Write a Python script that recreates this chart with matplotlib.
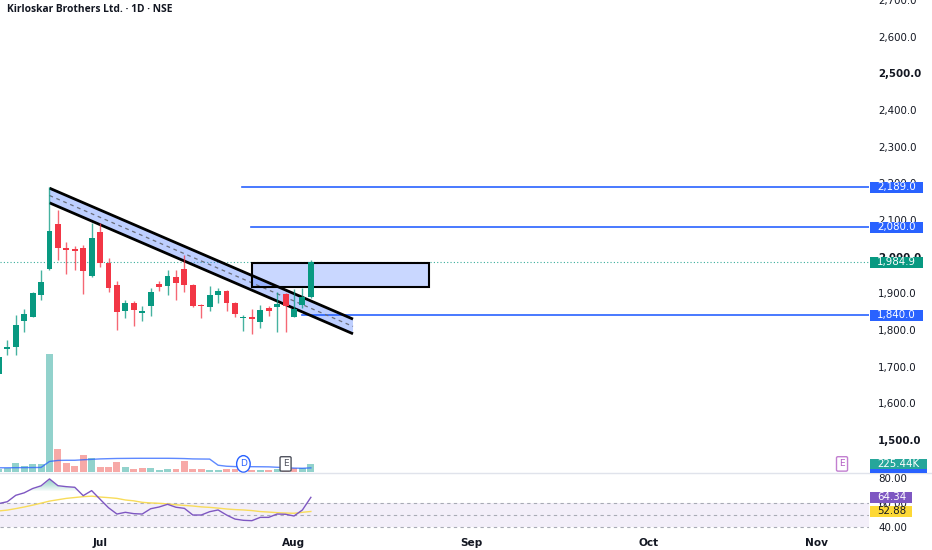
import matplotlib
matplotlib.use('Agg')
import matplotlib.pyplot as plt
import matplotlib.transforms as mtransforms
from matplotlib.patches import Rectangle, Polygon
from matplotlib.lines import Line2D
import numpy as np

# ---------------- data ----------------
title = "Kirloskar Brothers Ltd. · 1D · NSE"

opens  = [1680, 1749, 1754, 1824, 1837, 1896, 1967, 2089, 2024, 2020,
          2024, 1948, 2067, 1983, 1923, 1851, 1875, 1847, 1865, 1926,
          1919, 1944, 1966, 1924, 1869, 1862, 1896, 1908, 1875, 1832,
          1835, 1821, 1860, 1863, 1898, 1837, 1869, 1889]
highs  = [1735, 1774, 1842, 1857, 1905, 1963, 2189, 2128, 2039, 2030,
          2033, 2092, 2093, 1996, 1935, 1883, 1880, 1865, 1915, 1933,
          1963, 1963, 2005, 1926, 1872, 1919, 1915, 1910, 1877, 1842,
          1857, 1869, 1865, 1905, 1900, 1912, 1915, 1992]
lows   = [1675, 1733, 1731, 1795, 1835, 1883, 1965, 1992, 1954, 1965,
          1899, 1946, 1972, 1905, 1799, 1833, 1810, 1826, 1839, 1907,
          1896, 1883, 1905, 1864, 1833, 1851, 1875, 1851, 1837, 1797,
          1790, 1806, 1839, 1794, 1796, 1837, 1860, 1888]
closes = [1728, 1752, 1815, 1845, 1901, 1931, 2071, 2024, 2018, 2015,
          1962, 2051, 1983, 1916, 1850, 1874, 1854, 1853, 1905, 1917,
          1948, 1928, 1924, 1866, 1865, 1896, 1908, 1875, 1845, 1835,
          1831, 1854, 1852, 1872, 1867, 1857, 1889, 1984.9]
volumes_k = [70, 100, 245, 167, 225, 225, 3450, 653, 246, 176,
             480, 393, 129, 147, 275, 129, 88, 117, 117, 50,
             70, 88, 322, 79, 79, 50, 50, 67, 67, 50,
             50, 50, 50, 67, 67, 108, 108, 225.44]
vol_ma_k = [115, 115, 118, 120, 122, 125, 300, 330, 335, 335,
            350, 362, 375, 382, 388, 390, 392, 393, 393, 393,
            393, 390, 385, 375, 372, 370, 190, 160, 150, 147,
            147, 145, 142, 130, 118, 105, 100, 112]
rsi = [59.3, 60.8, 66.0, 68.0, 71.5, 73.7, 79.3, 73.8, 73.0, 72.5,
       65.7, 69.8, 62.8, 55.9, 50.8, 52.2, 51.1, 50.8, 55.1, 56.5,
       58.7, 56.3, 55.4, 50.0, 50.0, 52.7, 54.1, 50.0, 46.7, 45.7,
       45.4, 48.1, 48.1, 50.8, 50.6, 49.2, 54.1, 64.34]
rsi_ma = [53.3, 54.0, 55.2, 56.5, 58.0, 59.6, 61.3, 62.4, 63.5, 64.2,
          64.9, 65.3, 64.6, 64.1, 63.5, 62.2, 61.5, 60.3, 59.8, 59.5,
          59.0, 58.3, 57.8, 57.3, 56.6, 56.2, 55.6, 54.9, 54.4, 54.1,
          53.6, 52.8, 52.4, 51.9, 51.6, 51.4, 52.2, 52.88]

month_labels = ['Jul', 'Aug', 'Sep', 'Oct', 'Nov']
month_pos = [12, 35, 56, 77, 97]          # bar index of first session of month
price_ticks = list(range(1500, 2701, 100))
rsi_ticks = [40, 60, 80]

hlevels = [2189.0, 2080.0, 1840.0]
hstarts = [28.8, 29.9, 35.9]
channel_x = [6, 42]
channel_top = [2187, 1830]
channel_gap = 40
zone_x = [30.0, 51.0]
zone_y = [1917, 1984]
last_close = 1984.9
last_vol_label = '225.44K'
dividend_idx = 29
earnings_idx = 34
next_earnings_idx = 100

# ---------------- style ----------------
GREEN = '#089981'
RED = '#f23645'
VGREEN = '#92d2cc'
VRED = '#f7a9a7'
BLUE = '#2962ff'
TXT = '#131722'
W, H = 932, 550
PLOT_R = 869

plt.rcParams['font.family'] = ['DejaVu Sans']
fig = plt.figure(figsize=(W / 100, H / 100), dpi=100)
fig.patch.set_facecolor('white')

def fx(px):
    return px / W

def fy(py):
    return 1 - py / H

ax = fig.add_axes([0, fy(471.7), fx(PLOT_R), 471.7 / H])
vax = ax.twinx()
rax = fig.add_axes([0, fy(533), fx(PLOT_R), 60 / H])

n = len(closes)
x = np.arange(n)
o = np.array(opens, float)
c = np.array(closes, float)
h = np.array(highs, float)
l = np.array(lows, float)
up = c >= o

# candles
wick_cols = [GREEN if u else RED for u in up]
ax.vlines(x, l, h, colors=wick_cols, lw=1.0, alpha=0.75, zorder=7)
body_bottom = np.minimum(o, c)
body_h = np.maximum(np.abs(c - o), 4.5)
ax.bar(x, body_h, bottom=body_bottom, width=0.7,
       color=[GREEN if u else RED for u in up], linewidth=0, zorder=8)

# last price dotted line
ax.axhline(last_close, color=GREEN, lw=0.8, ls=(0, (1, 2)), alpha=0.8, zorder=1)

# horizontal rays
for lvl, st in zip(hlevels, hstarts):
    ax.plot([st, 200], [lvl, lvl], color=BLUE, lw=1.2, zorder=5)

# channel
xs = np.array(channel_x, float)
top = np.array(channel_top, float)
bot = top - channel_gap
mid = top - channel_gap / 2
poly = Polygon([[xs[0], top[0]], [xs[1], top[1]], [xs[1], bot[1]], [xs[0], bot[0]]],
               closed=True, facecolor=BLUE, alpha=0.3, edgecolor='none', zorder=5)
ax.add_patch(poly)
ax.plot(xs, top, color='black', lw=2.0, zorder=6, solid_capstyle='butt')
ax.plot(xs, bot, color='black', lw=2.0, zorder=6, solid_capstyle='butt')
ax.plot(xs, mid, color='#6a6d78', lw=0.9, ls=(0, (3, 3)), zorder=6)

# zone rectangle
ax.add_patch(Rectangle((zone_x[0], zone_y[0]), zone_x[1] - zone_x[0], zone_y[1] - zone_y[0],
                       facecolor=BLUE, alpha=0.25, edgecolor='none', zorder=5))
ax.add_patch(Rectangle((zone_x[0], zone_y[0]), zone_x[1] - zone_x[0], zone_y[1] - zone_y[0],
                       facecolor='none', edgecolor='black', lw=1.5, zorder=6))

ax.set_xlim(0.13, 103.2)
ax.set_ylim(1414, 2700)
ax.set_yticks(price_ticks)
ax.set_yticklabels([f"{t:,.1f}" for t in price_ticks])
ax.yaxis.tick_right()
ax.tick_params(axis='y', which='both', length=0, pad=6.5, labelsize=7.4, labelcolor=TXT)
for lab, t in zip(ax.get_yticklabels(), price_ticks):
    if t % 500 == 0:
        lab.set_fontweight('bold')
ax.set_xticks([])
for s in ax.spines.values():
    s.set_visible(False)
ax.set_facecolor('none')

# volume
vol = np.array(volumes_k, float)
prev = np.concatenate([[c[0] - 1], c[:-1]])
vcols = [VGREEN if cc >= pc else VRED for cc, pc in zip(c, prev)]
vax.bar(x, vol, width=0.82, color=vcols, linewidth=0, zorder=2)
vax.plot(x, vol_ma_k, color=BLUE, lw=1.0, alpha=0.75, zorder=3)
vax.set_ylim(0, 13830)
vax.set_xlim(ax.get_xlim())
vax.set_yticks([])
vax.set_xticks([])
for s in vax.spines.values():
    s.set_visible(False)

ev_tr = mtransforms.blended_transform_factory(vax.transData, vax.transAxes)
vax.text(dividend_idx, 0.0165, 'D', transform=ev_tr, ha='center', va='center',
         fontsize=6.5, color=BLUE, zorder=8,
         bbox=dict(boxstyle='ellipse,pad=0.15', fc='white', ec=BLUE, lw=1.0))
vax.text(earnings_idx, 0.0165, 'E', transform=ev_tr, ha='center', va='center',
         fontsize=6.5, color='#50535e', zorder=8,
         bbox=dict(boxstyle='round,pad=0.3,rounding_size=0.15', fc='white', ec='#50535e', lw=1.0))
vax.text(next_earnings_idx, 0.0165, 'E', transform=ev_tr, ha='center', va='center',
         fontsize=6.5, color='#b45cc4', zorder=8, clip_on=False,
         bbox=dict(boxstyle='round,pad=0.3,rounding_size=0.15', fc='white', ec='#c27fd0', lw=1.0))

# RSI pane
r = np.array(rsi, float)
rax.axhspan(40, 60, color='#7e57c2', alpha=0.09, lw=0, zorder=0)
for lvl in (60, 50, 40):
    rax.axhline(lvl, color='#a8abb5', lw=0.8, ls=(0, (3, 3)), zorder=1)
for k in range(10):
    lvl = 70 + k
    rax.fill_between(x, lvl, r, where=r > lvl, interpolate=True, color=GREEN,
                     alpha=0.05, lw=0, zorder=1)
rax.plot(x, rsi_ma, color='#f8dc5a', lw=1.0, zorder=2)
rax.plot(x, r, color='#7e57c2', lw=1.0, zorder=3)
rax.set_xlim(ax.get_xlim())
rax.set_ylim(35.4, 84.1)
rax.set_yticks(rsi_ticks)
rax.set_yticklabels([f"{t:.2f}" for t in rsi_ticks])
rax.yaxis.tick_right()
rax.tick_params(axis='y', length=0, pad=6.5, labelsize=7.4, labelcolor=TXT)
rax.set_xticks(month_pos)
rax.set_xticklabels(month_labels)
rax.tick_params(axis='x', length=0, pad=3.5, labelsize=7.6, labelcolor=TXT)
for lab in rax.get_xticklabels():
    lab.set_fontweight('bold')
for s in rax.spines.values():
    s.set_visible(False)
rax.set_facecolor('none')

# separator
fig.add_artist(Line2D([0, 1], [fy(472.7), fy(472.7)], transform=fig.transFigure,
                      color='#e0e3eb', lw=1.0))

# axis value labels
def value_label(axis, yval, text, fc, tc='white', width=53):
    base = mtransforms.blended_transform_factory(fig.transFigure, axis.transData)
    tr = mtransforms.ScaledTranslation(fx(PLOT_R + 1), yval, base)
    rect = Rectangle((0, -5.3), width, 10.6, transform=tr, facecolor=fc,
                     edgecolor='none', zorder=5)
    fig.add_artist(rect)
    fig.text(7, 0, text, transform=tr, ha='left', va='center', fontsize=7.4,
             color=tc, zorder=6)

for lvl in hlevels:
    value_label(ax, lvl, f"{lvl:,.1f}", BLUE)
value_label(ax, last_close, f"{last_close:,.1f}", GREEN)
value_label(vax, vol_ma_k[-1], '', BLUE, width=57)
value_label(vax, volumes_k[-1], last_vol_label, '#26a69a', width=57)
value_label(rax, rsi_ma[-1], f"{rsi_ma[-1]:.2f}", '#fdd835', tc=TXT, width=42)
value_label(rax, rsi[-1], f"{rsi[-1]:.2f}", '#7e57c2', width=42)

# title
fig.text(fx(7), fy(10), title, ha='left', va='center', fontsize=7.4,
         fontweight='bold', color=TXT, family=['Open Sans', 'DejaVu Sans'])

fig.savefig('out.png', dpi=100, facecolor='white')
